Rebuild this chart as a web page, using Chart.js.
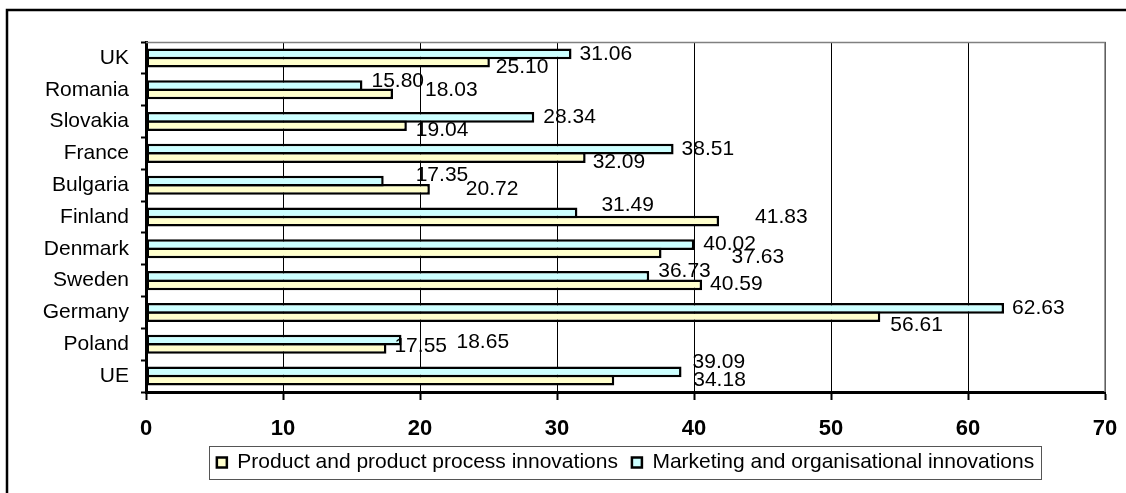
<!DOCTYPE html>
<html>
<head>
<meta charset="utf-8">
<script src="https://cdn.jsdelivr.net/npm/chart.js@4/dist/chart.umd.min.js"></script>
<style>
  html, body { margin: 0; padding: 0; background: #fff; }
  #wrap { width: 1126px; height: 493px; }
</style>
</head>
<body>
<div id="wrap"><canvas id="chart" width="1126" height="493"></canvas></div>
<script>
// Data (top to bottom as in the chart)
const countries = ['UK', 'Romania', 'Slovakia', 'France', 'Bulgaria', 'Finland', 'Denmark', 'Sweden', 'Germany', 'Poland', 'UE'];
const marketingValues = [31.06, 15.80, 28.34, 38.51, 17.35, 31.49, 40.02, 36.73, 62.63, 18.65, 39.09];
// bar lengths as drawn (Germany bar is shorter than its printed label)
const productValues = [25.10, 18.03, 19.04, 32.09, 20.72, 41.83, 37.63, 40.59, 53.6, 17.55, 34.18];
const marketingLabels = ['31.06', '15.80', '28.34', '38.51', '17.35', '31.49', '40.02', '36.73', '62.63', '18.65', '39.09'];
const productLabels = ['25.10', '18.03', '19.04', '32.09', '20.72', '41.83', '37.63', '40.59', '56.61', '17.55', '34.18'];
const xTicks = [0, 10, 20, 30, 40, 50, 60, 70];

// Label nudges (px from bar end / bar centre), the labels were dragged around in the original
const marketingShift = [[8, 0], [9, -4], [9, 0], [8, 0], [32, -6], [24, -8], [9, 0], [9, -5], [8, 0], [55, 2], [11, -9.5]];
const productShift = [[6, 5], [32, -4], [9, 5], [7, 5], [36, 0], [36, -4], [70, 4], [8, -1], [10, 9], [8, -2], [79, 0]];

const FONT = '"Liberation Sans", Arial, sans-serif';

const frame = {
  id: 'frame',
  beforeDraw(chart) {
    const { ctx } = chart;
    ctx.save();
    ctx.strokeStyle = '#000';
    ctx.lineWidth = 2.5;
    ctx.beginPath();
    ctx.moveTo(7, 600);
    ctx.lineTo(7, 10);
    ctx.lineTo(1200, 10);
    ctx.stroke();
    ctx.restore();
  },
  afterDraw(chart) {
    const { ctx, chartArea: a } = chart;
    ctx.save();
    ctx.strokeStyle = '#808080';
    ctx.lineWidth = 1.5;
    ctx.beginPath();
    ctx.moveTo(a.left, a.top + 0.5);
    ctx.lineTo(a.right, a.top + 0.5);
    ctx.lineTo(a.right, a.bottom);
    ctx.stroke();

    // legend frame
    const boxes = chart.legend.legendHitBoxes;
    if (boxes && boxes.length) {
      const l = Math.min(...boxes.map(b => b.left));
      const r = Math.max(...boxes.map(b => b.left + b.width));
      const t = Math.min(...boxes.map(b => b.top));
      const bt = Math.max(...boxes.map(b => b.top + b.height));
      ctx.strokeStyle = '#555';
      ctx.lineWidth = 1;
      ctx.strokeRect(Math.round(l - 8) + 0.5, Math.round(t - 6) + 0.5, Math.round(r - l + 15), Math.round(bt - t + 12));
    }
    ctx.restore();
  }
};

const valueLabels = {
  id: 'valueLabels',
  afterDatasetsDraw(chart) {
    const { ctx } = chart;
    ctx.save();
    ctx.font = '21px ' + FONT;
    ctx.fillStyle = '#000';
    ctx.textAlign = 'left';
    ctx.textBaseline = 'middle';
    chart.data.datasets.forEach((ds, di) => {
      const meta = chart.getDatasetMeta(di);
      const texts = di === 0 ? marketingLabels : productLabels;
      const shift = di === 0 ? marketingShift : productShift;
      meta.data.forEach((bar, i) => {
        ctx.fillText(texts[i], bar.x + shift[i][0], bar.y + shift[i][1]);
      });
    });
    ctx.restore();
  }
};

new Chart(document.getElementById('chart'), {
  type: 'bar',
  data: {
    labels: countries,
    datasets: [
      {
        label: 'Marketing and organisational innovations',
        data: marketingValues,
        backgroundColor: '#CCFFFF',
        borderColor: '#000',
        borderWidth: 2.5,
        borderSkipped: false,
        categoryPercentage: 0.52,
        barPercentage: 1.3
      },
      {
        label: 'Product and product process innovations',
        data: productValues,
        backgroundColor: '#FFFFCC',
        borderColor: '#000',
        borderWidth: 2.5,
        borderSkipped: false,
        categoryPercentage: 0.52,
        barPercentage: 1.3
      }
    ]
  },
  options: {
    indexAxis: 'y',
    responsive: false,
    animation: false,
    devicePixelRatio: 1,
    layout: { padding: { left: 14, right: 21, top: 42, bottom: 10 } },
    scales: {
      x: {
        type: 'linear',
        min: 0,
        max: 70,
        afterBuildTicks: s => { s.ticks = xTicks.map(v => ({ value: v })); },
        afterFit: s => {
          s.height = 46;
          s.paddingLeft = 0;
          s.paddingRight = 0;
        },
        grid: {
          color: '#000',
          lineWidth: 1,
          drawTicks: true,
          tickLength: 8,
          tickColor: '#000',
          tickWidth: 2
        },
        border: { color: '#000', width: 3 },
        ticks: {
          color: '#000',
          padding: 16,
          maxRotation: 0,
          font: { family: FONT, size: 22, weight: 'bold' }
        }
      },
      y: {
        afterFit: s => {
          s.width = 132;
          s.paddingTop = 0;
          s.paddingBottom = 0;
        },
        grid: {
          drawOnChartArea: false,
          offset: true,
          tickLength: 5,
          tickColor: '#000',
          tickWidth: 2
        },
        border: { color: '#000', width: 3 },
        ticks: {
          color: '#000',
          padding: 12,
          font: { family: FONT, size: 21 }
        }
      }
    },
    plugins: {
      legend: {
        position: 'bottom',
        fullSize: false,
        reverse: true,
        labels: {
          color: '#000',
          boxWidth: 10,
          boxHeight: 10,
          padding: 14,
          font: { family: FONT, size: 21 }
        }
      },
      tooltip: { enabled: false }
    }
  },
  plugins: [frame, valueLabels]
});
</script>
</body>
</html>
